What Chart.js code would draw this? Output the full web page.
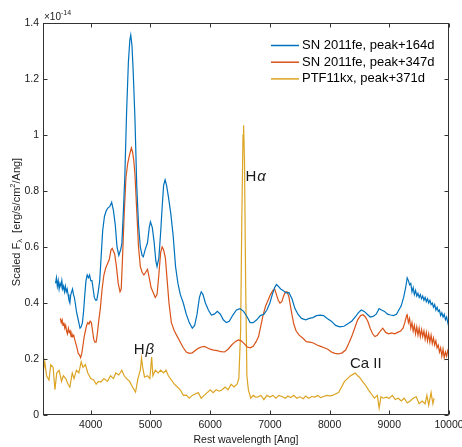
<!DOCTYPE html>
<html lang="en">
<head>
<meta charset="UTF-8" />
<title>Late-time spectra</title>
<style>
  body { margin: 0; background: #ffffff; }
  #wrap { width: 462px; height: 447px; }
</style>
</head>
<body>
<div id="wrap"><canvas id="spec" width="462" height="447"></canvas></div>
<script src="https://cdn.jsdelivr.net/npm/chart.js"></script>
<script>
// SN 2011fe, peak+164d (flux in units of 1e-14)
const fe164Wave = [3410, 3425, 3440, 3455, 3470, 3485, 3500, 3515, 3530, 3545, 3560, 3575, 3590, 3605, 3620, 3635, 3650, 3665, 3680, 3695,
  3710, 3725, 3740, 3760, 3780, 3800, 3820, 3840, 3860, 3880, 3900, 3920, 3940, 3960, 3980, 4000, 4020, 4040, 4060, 4080,
  4100, 4125, 4150, 4175, 4200, 4230, 4260, 4290, 4320, 4350, 4380, 4410, 4440, 4470, 4500, 4520, 4545, 4570, 4600, 4630,
  4655, 4670, 4690, 4710, 4740, 4770, 4800, 4830, 4860, 4880, 4910, 4950, 4980, 5000, 5030, 5060, 5090, 5110, 5140, 5170,
  5195, 5220, 5245, 5270, 5300, 5340, 5380, 5420, 5460, 5500, 5550, 5600, 5650, 5700, 5740, 5780, 5820, 5850, 5880, 5920,
  5970, 6020, 6070, 6120, 6170, 6220, 6270, 6320, 6380, 6440, 6500, 6560, 6620, 6670, 6720, 6780, 6840, 6900, 6950, 7000,
  7040, 7080, 7110, 7140, 7180, 7220, 7270, 7320, 7370, 7420, 7470, 7530, 7600, 7660, 7720, 7780, 7840, 7900, 7960, 8030,
  8100, 8170, 8240, 8300, 8370, 8430, 8480, 8530, 8580, 8630, 8680, 8730, 8780, 8830, 8870, 8920, 8970, 9020, 9070, 9120,
  9160, 9200, 9240, 9270, 9300, 9320, 9340, 9360, 9380, 9400, 9420, 9440, 9460, 9480, 9500, 9520, 9540, 9560, 9580, 9600,
  9620, 9640, 9660, 9680, 9700, 9720, 9740, 9760, 9780, 9800, 9820, 9840, 9860, 9880, 9900, 9920, 9940, 9960, 9980, 10000];
const fe164Flux = [0.47, 0.49, 0.46, 0.48, 0.45, 0.47, 0.46, 0.48, 0.45, 0.46, 0.44, 0.46, 0.44, 0.45, 0.43, 0.41, 0.40, 0.43, 0.44, 0.45,
  0.43, 0.42, 0.40, 0.37, 0.35, 0.33, 0.31, 0.315, 0.33, 0.37, 0.43, 0.48, 0.50, 0.49, 0.50, 0.48, 0.48, 0.45, 0.42, 0.41,
  0.41, 0.44, 0.48, 0.57, 0.66, 0.71, 0.73, 0.74, 0.745, 0.76, 0.73, 0.68, 0.60, 0.57, 0.59, 0.61, 0.72, 0.85, 1.08, 1.26,
  1.34, 1.357, 1.32, 1.23, 1.06, 0.82, 0.68, 0.60, 0.57, 0.565, 0.59, 0.615, 0.67, 0.69, 0.67, 0.62, 0.55, 0.53, 0.56, 0.65,
  0.74, 0.82, 0.84, 0.82, 0.78, 0.72, 0.64, 0.53, 0.47, 0.43, 0.40, 0.36, 0.33, 0.31, 0.32, 0.36, 0.42, 0.44, 0.43, 0.40,
  0.375, 0.357, 0.36, 0.37, 0.36, 0.34, 0.33, 0.335, 0.357, 0.375, 0.38, 0.37, 0.35, 0.33, 0.33, 0.34, 0.355, 0.36, 0.375, 0.40,
  0.43, 0.455, 0.466, 0.46, 0.45, 0.445, 0.436, 0.437, 0.415, 0.38, 0.36, 0.345, 0.34, 0.345, 0.348, 0.355, 0.357, 0.355, 0.345, 0.335,
  0.32, 0.315, 0.317, 0.325, 0.335, 0.35, 0.365, 0.375, 0.37, 0.36, 0.35, 0.352, 0.36, 0.38, 0.375, 0.37, 0.36, 0.357, 0.355, 0.36,
  0.375, 0.39, 0.42, 0.45, 0.49, 0.48, 0.465, 0.47, 0.44, 0.455, 0.43, 0.445, 0.425, 0.435, 0.42, 0.43, 0.415, 0.425, 0.41, 0.42,
  0.405, 0.415, 0.40, 0.41, 0.395, 0.40, 0.385, 0.395, 0.375, 0.385, 0.37, 0.375, 0.355, 0.365, 0.35, 0.36, 0.34, 0.35, 0.33, 0.31];

// SN 2011fe, peak+347d
const fe347Wave = [3490, 3505, 3520, 3535, 3550, 3565, 3580, 3595, 3610, 3625, 3640, 3655, 3670, 3685, 3700, 3715, 3730, 3750, 3770, 3790,
  3810, 3830, 3850, 3870, 3890, 3910, 3930, 3950, 3970, 3990, 4010, 4030, 4050, 4070, 4090, 4110, 4130, 4160, 4190, 4220,
  4250, 4280, 4310, 4340, 4360, 4380, 4400, 4430, 4460, 4490, 4510, 4530, 4560, 4590, 4620, 4650, 4680, 4700, 4720, 4740,
  4770, 4800, 4830, 4860, 4890, 4920, 4950, 4980, 5010, 5040, 5080, 5110, 5140, 5170, 5195, 5220, 5250, 5280, 5310, 5350,
  5400, 5450, 5500, 5550, 5600, 5650, 5700, 5750, 5800, 5850, 5900, 5950, 6000, 6060, 6120, 6180, 6240, 6300, 6360, 6420,
  6470, 6520, 6570, 6620, 6670, 6720, 6770, 6810, 6850, 6890, 6930, 6970, 7010, 7050, 7080, 7110, 7140, 7170, 7200, 7230,
  7260, 7290, 7320, 7360, 7400, 7440, 7490, 7550, 7610, 7670, 7730, 7790, 7850, 7910, 7970, 8030, 8090, 8150, 8210, 8270,
  8320, 8370, 8420, 8470, 8520, 8560, 8600, 8640, 8680, 8720, 8760, 8800, 8850, 8890, 8940, 8990, 9040, 9090, 9140, 9190,
  9230, 9260, 9290, 9300, 9320, 9340, 9360, 9380, 9400, 9420, 9440, 9460, 9480, 9500, 9520, 9540, 9560, 9580, 9600, 9620,
  9640, 9660, 9680, 9700, 9720, 9740, 9760, 9780, 9800, 9820, 9840, 9860, 9880, 9900, 9920, 9940, 9960, 9980, 10000];
const fe347Flux = [0.345, 0.33, 0.34, 0.32, 0.33, 0.31, 0.32, 0.30, 0.29, 0.31, 0.295, 0.30, 0.28, 0.29, 0.28, 0.285, 0.27, 0.255, 0.24, 0.22,
  0.215, 0.205, 0.22, 0.25, 0.28, 0.30, 0.32, 0.33, 0.325, 0.335, 0.33, 0.30, 0.27, 0.26, 0.26, 0.29, 0.33, 0.38, 0.45, 0.50,
  0.525, 0.54, 0.555, 0.59, 0.595, 0.585, 0.575, 0.53, 0.47, 0.44, 0.45, 0.55, 0.72, 0.85, 0.90, 0.93, 0.954, 0.94, 0.91, 0.86,
  0.73, 0.60, 0.53, 0.51, 0.50, 0.51, 0.52, 0.49, 0.455, 0.44, 0.42, 0.43, 0.50, 0.58, 0.60, 0.59, 0.56, 0.48, 0.40, 0.33,
  0.30, 0.28, 0.26, 0.24, 0.225, 0.22, 0.222, 0.23, 0.238, 0.243, 0.245, 0.24, 0.235, 0.232, 0.23, 0.226, 0.225, 0.235, 0.25, 0.262,
  0.268, 0.265, 0.255, 0.243, 0.24, 0.245, 0.262, 0.28, 0.32, 0.36, 0.39, 0.41, 0.43, 0.445, 0.45, 0.43, 0.41, 0.40, 0.405, 0.425,
  0.44, 0.44, 0.42, 0.37, 0.325, 0.30, 0.285, 0.275, 0.262, 0.26, 0.257, 0.25, 0.245, 0.24, 0.235, 0.225, 0.22, 0.218, 0.222, 0.232,
  0.255, 0.28, 0.31, 0.34, 0.355, 0.358, 0.35, 0.335, 0.31, 0.29, 0.28, 0.285, 0.30, 0.31, 0.295, 0.29, 0.293, 0.29, 0.295, 0.30,
  0.31, 0.33, 0.355, 0.358, 0.33, 0.345, 0.31, 0.33, 0.30, 0.32, 0.29, 0.315, 0.285, 0.31, 0.28, 0.305, 0.28, 0.30, 0.27, 0.295,
  0.265, 0.29, 0.26, 0.285, 0.255, 0.275, 0.25, 0.265, 0.24, 0.25, 0.225, 0.24, 0.21, 0.235, 0.205, 0.225, 0.21, 0.23, 0.22];

// PTF11kx, peak+371d
const kxWave = [3200, 3230, 3260, 3300, 3330, 3370, 3400, 3430, 3470, 3510, 3540, 3580, 3620, 3650, 3690, 3720, 3760, 3800, 3840, 3870,
  3910, 3950, 4000, 4050, 4090, 4130, 4170, 4220, 4280, 4330, 4380, 4420, 4470, 4520, 4560, 4600, 4650, 4700, 4750, 4790,
  4830, 4850, 4870, 4900, 4950, 4990, 5020, 5040, 5080, 5130, 5170, 5220, 5260, 5300, 5350, 5400, 5450, 5500, 5550, 5600,
  5650, 5700, 5750, 5800, 5850, 5900, 5950, 6000, 6050, 6100, 6150, 6200, 6250, 6300, 6350, 6400, 6450, 6480, 6510, 6530,
  6550, 6560, 6575, 6595, 6615, 6640, 6680, 6720, 6760, 6800, 6850, 6900, 6950, 7000, 7050, 7100, 7150, 7200, 7260, 7300,
  7350, 7400, 7450, 7500, 7560, 7600, 7650, 7700, 7750, 7800, 7850, 7900, 7950, 8000, 8050, 8100, 8150, 8200, 8250, 8300,
  8350, 8400, 8430, 8470, 8500, 8550, 8600, 8650, 8700, 8750, 8800, 8830, 8860, 8900, 8950, 9000, 9050, 9100, 9150, 9200,
  9250, 9300, 9350, 9400, 9450, 9500, 9550, 9600, 9630, 9660, 9700, 9730, 9750];
const kxFlux = [0.15, 0.19, 0.14, 0.125, 0.18, 0.17, 0.09, 0.15, 0.16, 0.12, 0.14, 0.13, 0.11, 0.10, 0.15, 0.13, 0.16, 0.15, 0.19, 0.17,
  0.18, 0.15, 0.13, 0.125, 0.11, 0.12, 0.118, 0.13, 0.12, 0.14, 0.13, 0.15, 0.143, 0.16, 0.14, 0.13, 0.12, 0.10, 0.082, 0.13,
  0.16, 0.203, 0.17, 0.135, 0.14, 0.13, 0.207, 0.14, 0.16, 0.15, 0.16, 0.15, 0.16, 0.14, 0.125, 0.11, 0.10, 0.09, 0.07, 0.071,
  0.06, 0.07, 0.075, 0.08, 0.06, 0.07, 0.08, 0.09, 0.08, 0.09, 0.085, 0.09, 0.10, 0.09, 0.11, 0.10, 0.11, 0.13, 0.30, 0.70,
  1.00, 1.035, 0.90, 0.45, 0.14, 0.09, 0.06, 0.07, 0.064, 0.065, 0.07, 0.055, 0.07, 0.064, 0.07, 0.06, 0.07, 0.066, 0.06, 0.068,
  0.062, 0.07, 0.06, 0.065, 0.058, 0.068, 0.06, 0.066, 0.064, 0.07, 0.062, 0.066, 0.07, 0.068, 0.07, 0.075, 0.08, 0.10, 0.12, 0.13,
  0.14, 0.146, 0.15, 0.14, 0.135, 0.12, 0.107, 0.09, 0.075, 0.06, 0.07, 0.025, 0.065, 0.06, 0.064, 0.06, 0.07, 0.055, 0.06, 0.05,
  0.06, 0.043, 0.05, 0.06, 0.065, 0.04, 0.05, 0.04, 0.07, 0.035, 0.08, 0.04, 0.06];

const seriesNames = ['SN 2011fe, peak+164d', 'SN 2011fe, peak+347d', 'PTF11kx, peak+371d'];
const seriesColors = ['#0072BD', '#D95319', '#DCA423'];
const xTicks = [4000, 5000, 6000, 7000, 8000, 9000, 10000];
const yTicks = [0, 0.2, 0.4, 0.6, 0.8, 1, 1.2, 1.4];
// line identifications: plain part, greek (italic) part, wavelength, flux
const lineIds = [
  { plain: 'H', greek: 'α', x: 6590, y: 0.85 },
  { plain: 'H', greek: 'β', x: 4720, y: 0.232 },
  { plain: 'Ca II', greek: '', x: 8340, y: 0.182 }
];

const FONT = "'Liberation Sans', Arial, Helvetica, sans-serif";
const INK = '#1a1a1a';

const toPoints = (wave, flux) => wave.map((w, i) => ({ x: w, y: flux[i] }));

// box around the plot with inward tick marks on all four sides
const framePlugin = {
  id: 'frame',
  afterDatasetsDraw(chart) {
    const { ctx, chartArea: a, scales } = chart;
    const L = Math.round(a.left) + 0.5, R = Math.round(a.right) - 0.5;
    const T = Math.round(a.top) + 0.5, B = Math.round(a.bottom) - 0.5;
    ctx.save();
    ctx.strokeStyle = '#333';
    ctx.lineWidth = 1;
    ctx.strokeRect(L, T, R - L, B - T);
    ctx.beginPath();
    xTicks.forEach(v => {
      const px = Math.round(scales.x.getPixelForValue(v)) + 0.5;
      ctx.moveTo(px, B); ctx.lineTo(px, B - 4);
      ctx.moveTo(px, T); ctx.lineTo(px, T + 4);
    });
    yTicks.forEach(v => {
      const py = Math.round(scales.y.getPixelForValue(v)) + 0.5;
      ctx.moveTo(L, py); ctx.lineTo(L + 4, py);
      ctx.moveTo(R, py); ctx.lineTo(R - 4, py);
    });
    ctx.stroke();
    ctx.restore();
  }
};

// legend, axis titles, exponent and line labels
const textPlugin = {
  id: 'texts',
  afterDraw(chart) {
    const { ctx, scales } = chart;
    ctx.save();
    ctx.fillStyle = INK;
    ctx.textAlign = 'left';

    // exponent above the y axis
    ctx.textBaseline = 'alphabetic';
    ctx.font = '10px ' + FONT;
    ctx.fillText('×10', 44, 20);
    const ew = ctx.measureText('×10').width;
    ctx.font = '7px ' + FONT;
    ctx.fillText('-14', 44 + ew, 15);

    // x title
    ctx.font = '10.5px ' + FONT;
    ctx.textAlign = 'center';
    ctx.fillText('Rest wavelength [Ang]', 246, 443);

    // y title, rotated, with subscript and superscript
    const parts = [
      { t: 'Scaled F', s: 11, dy: 0 },
      { t: 'λ', s: 7.5, dy: 2.5 },
      { t: '  [erg/s/cm', s: 11, dy: 0 },
      { t: '2', s: 7.5, dy: -4.5 },
      { t: '/Ang]', s: 11, dy: 0 }
    ];
    let total = 0;
    parts.forEach(p => { ctx.font = p.s + 'px ' + FONT; p.w = ctx.measureText(p.t).width; total += p.w; });
    ctx.save();
    ctx.translate(19.5, 222);
    ctx.rotate(-Math.PI / 2);
    ctx.textAlign = 'left';
    let cx = -total / 2;
    parts.forEach(p => {
      ctx.font = p.s + 'px ' + FONT;
      ctx.fillText(p.t, cx, p.dy);
      cx += p.w;
    });
    ctx.restore();

    // line identifications
    ctx.textAlign = 'left';
    ctx.textBaseline = 'middle';
    lineIds.forEach(l => {
      let px = scales.x.getPixelForValue(l.x);
      const py = scales.y.getPixelForValue(l.y);
      ctx.font = '15px ' + FONT;
      ctx.fillText(l.plain, px, py);
      px += ctx.measureText(l.plain).width + 1;
      if (l.greek) {
        ctx.font = 'italic 15px ' + FONT;
        ctx.fillText(l.greek, px, py);
      }
    });

    // legend
    ctx.font = '13px ' + FONT;
    chart.data.datasets.forEach((ds, i) => {
      const y = 45.5 + i * 16.7;
      ctx.strokeStyle = ds.borderColor;
      ctx.lineWidth = 1.5;
      ctx.beginPath();
      ctx.moveTo(271, y); ctx.lineTo(299, y);
      ctx.stroke();
      ctx.fillStyle = '#000';
      ctx.fillText(ds.label, 302, y);
    });
    ctx.restore();
  }
};

const series = [toPoints(fe164Wave, fe164Flux), toPoints(fe347Wave, fe347Flux), toPoints(kxWave, kxFlux)];

new Chart(document.getElementById('spec'), {
  type: 'line',
  data: {
    datasets: series.map((pts, i) => ({
      label: seriesNames[i],
      data: pts,
      borderColor: seriesColors[i],
      borderWidth: 1.2,
      pointRadius: 0,
      tension: 0,
      fill: false
    }))
  },
  options: {
    responsive: false,
    animation: false,
    events: [],
    layout: { padding: { top: 23, right: 13, left: 0, bottom: 0 } },
    plugins: { legend: { display: false }, tooltip: { enabled: false } },
    scales: {
      x: {
        type: 'linear', min: 3200, max: 10000,
        grid: { display: false, drawTicks: false },
        border: { display: false },
        afterBuildTicks: s => { s.ticks = xTicks.map(v => ({ value: v })); },
        afterFit: s => { s.height = 32; s.paddingLeft = 0; s.paddingRight = 0; },
        ticks: { padding: 4, maxRotation: 0, autoSkip: false, color: INK,
          font: { family: FONT, size: 10.5 }, callback: v => String(v) }
      },
      y: {
        type: 'linear', min: 0, max: 1.4,
        grid: { display: false, drawTicks: false },
        border: { display: false },
        afterBuildTicks: s => { s.ticks = yTicks.map(v => ({ value: v })); },
        afterFit: s => { s.width = 43; s.paddingTop = 0; s.paddingBottom = 0; },
        ticks: { padding: 4, color: INK, font: { family: FONT, size: 10.5 }, callback: v => String(v) }
      }
    }
  },
  plugins: [framePlugin, textPlugin]
});
</script>
</body>
</html>
